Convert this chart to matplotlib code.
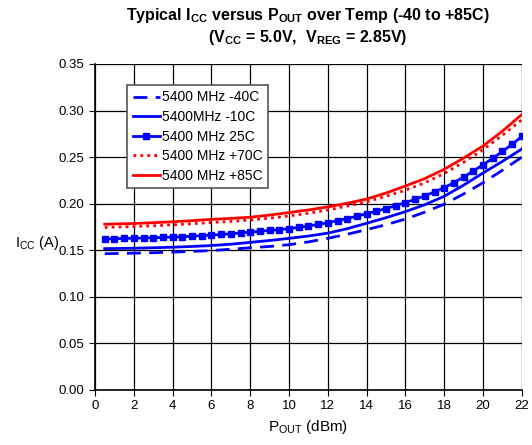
import matplotlib
matplotlib.use('Agg')
import matplotlib.pyplot as plt

plt.rcParams['font.family'] = ['Liberation Sans', 'DejaVu Sans']
plt.rcParams['mathtext.default'] = 'regular'

# P_OUT (dBm) for the plain lines
p_out = [0.5, 1, 2, 3, 4, 5, 6, 7, 8, 9, 10, 11, 12, 13, 14, 15, 16, 17, 18, 19, 20, 21, 22]

icc_m40 = [0.1463, 0.1465, 0.1469, 0.1474, 0.1480, 0.1488, 0.1497, 0.1511, 0.1527, 0.1541, 0.1560,
           0.1590, 0.1629, 0.1672, 0.1722, 0.1775, 0.1835, 0.1910, 0.1995, 0.2105, 0.2225, 0.2360, 0.2500]
icc_m10 = [0.1518, 0.1519, 0.1522, 0.1527, 0.1533, 0.1541, 0.1551, 0.1565, 0.1585, 0.1605, 0.1628,
           0.1653, 0.1684, 0.1732, 0.1790, 0.1850, 0.1915, 0.1990, 0.2080, 0.2200, 0.2330, 0.2455, 0.2588]
icc_p70 = [0.1745, 0.1748, 0.1755, 0.1763, 0.1773, 0.1785, 0.1798, 0.1810, 0.1825, 0.1845, 0.1868,
           0.1898, 0.1932, 0.1975, 0.2020, 0.2080, 0.2145, 0.2225, 0.2325, 0.2445, 0.2580, 0.2735, 0.2902]
icc_p85 = [0.1780, 0.1782, 0.1788, 0.1796, 0.1806, 0.1818, 0.1832, 0.1842, 0.1855, 0.1878, 0.1905,
           0.1933, 0.1966, 0.2005, 0.2050, 0.2115, 0.2190, 0.2270, 0.2370, 0.2490, 0.2620, 0.2780, 0.2958]

# 25C curve has a marker every 0.5 dBm
p_out_25 = [0.5, 1.0, 1.5, 2.0, 2.5, 3.0, 3.5, 4.0, 4.5, 5.0, 5.5, 6.0, 6.5, 7.0, 7.5, 8.0, 8.5, 9.0,
            9.5, 10.0, 10.5, 11.0, 11.5, 12.0, 12.5, 13.0, 13.5, 14.0, 14.5, 15.0, 15.5, 16.0, 16.5,
            17.0, 17.5, 18.0, 18.5, 19.0, 19.5, 20.0, 20.5, 21.0, 21.5, 22.0]
icc_25 = [0.1622, 0.1624, 0.1627, 0.1630, 0.1632, 0.1635, 0.1638, 0.1641, 0.1646, 0.1651, 0.1657,
          0.1663, 0.1670, 0.1677, 0.1686, 0.1695, 0.1704, 0.1713, 0.1722, 0.1732, 0.1746, 0.1761,
          0.1778, 0.1796, 0.1818, 0.1841, 0.1866, 0.1893, 0.1919, 0.1948, 0.1979, 0.2012, 0.2047,
          0.2085, 0.2127, 0.2172, 0.2227, 0.2287, 0.2351, 0.2418, 0.2488, 0.2561, 0.2639, 0.2722]

labels = ['5400 MHz -40C', '5400MHz -10C', '5400 MHz 25C', '5400 MHz +70C', '5400 MHz +85C']
x_ticks = list(range(0, 23, 2))
y_ticks = [0.00, 0.05, 0.10, 0.15, 0.20, 0.25, 0.30, 0.35]

fig = plt.figure(figsize=(5.32, 4.45), dpi=100)
ax = fig.add_axes([0.1786, 0.1236, 0.8024, 0.7326])

ax.plot(p_out, icc_m40, color='#0000ff', lw=2, linestyle=(0, (5, 3)), label=labels[0])
ax.plot(p_out, icc_m10, color='#0000ff', lw=2, label=labels[1])
ax.plot(p_out_25, icc_25, color='#0000ff', lw=2, marker='s', ms=4.5, label=labels[2])
ax.plot(p_out, icc_p70, color='#ff0000', lw=2, linestyle=(0, (1, 1.5)), label=labels[3])
ax.plot(p_out, icc_p85, color='#ff0000', lw=2, label=labels[4])

ax.set_xlim(0, 22)
ax.set_ylim(0, 0.35)
ax.set_xticks(x_ticks)
ax.set_yticks(y_ticks)
ax.set_yticklabels(['%.2f' % v for v in y_ticks])
ax.grid(True, color='black', lw=0.9)
ax.tick_params(labelsize=9.5, length=4, color='black')
for s in ['top', 'right']:
    ax.spines[s].set_visible(False)
for s in ['left', 'bottom']:
    ax.spines[s].set_linewidth(1.2)

ax.set_xlabel('P$_{OUT}$ (dBm)', fontsize=11)
ax.set_ylabel('I$_{CC}$ (A)', fontsize=10.5, rotation=0, va='center')
ax.yaxis.set_label_coords(-0.137, 0.45)

fig.text(0.578, 0.965, 'Typical I$_{CC}$ versus P$_{OUT}$ over Temp (-40 to +85C)',
         ha='center', va='center', fontsize=11.5, fontweight='bold')
fig.text(0.578, 0.915, '(V$_{CC}$ = 5.0V,  V$_{REG}$ = 2.85V)',
         ha='center', va='center', fontsize=11.5, fontweight='bold')

leg = ax.legend(loc='upper left', bbox_to_anchor=(0.075, 0.936), fontsize=10, fancybox=False,
                framealpha=1, edgecolor='#555555', borderpad=0.4, labelspacing=0.4,
                handlelength=2.0, handletextpad=0.1, borderaxespad=0)
leg.get_frame().set_linewidth(1.2)

fig.savefig('out.png', dpi=100)
